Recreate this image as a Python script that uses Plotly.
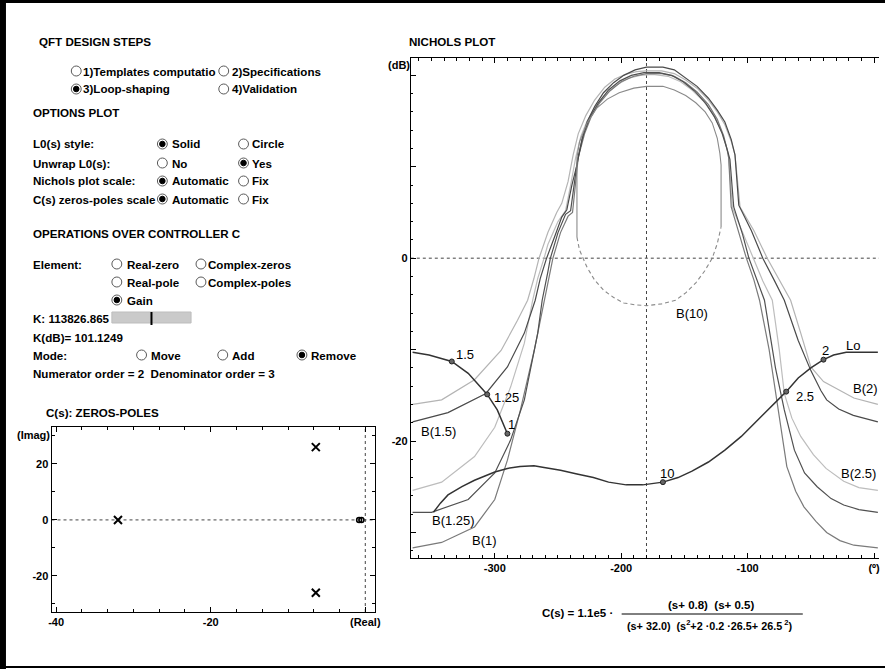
import plotly.graph_objects as go

# ---------------- Nichols plot data (phase in degrees, magnitude in dB) ----------------
b1_phase = [-365, -342, -316, -300, -290, -279.7, -268.8, -261, -257, -254, -248, -242, -238.5, -236, -234,
            -229, -224, -217, -209, -200, -190, -180, -168, -158, -149, -140, -131, -124, -119, -116, -115,
            -113, -107, -101, -95, -90.6, -83, -77, -73, -69, -62, -55.5, -46, -37.5, -27, -16, 3]
b1_db = [-31.7, -31.1, -29.4, -26.4, -22.1, -16.6, -10.1, -4.6, -1.8, 0, 2.8, 4.6, 5.0, 8.0, 11.0,
         13.6, 15.4, 17.0, 18.3, 19.3, 19.9, 20.2, 20.2, 19.9, 19.2, 18.2, 16.8, 15.2, 13.4, 11.8, 11.0,
         5.6, 2.8, 0, -2.4, -4.6, -10, -15.5, -19, -22.8, -25.5, -27.2, -28.8, -30, -30.9, -31.4, -31.7]

b125_phase = [-365, -350, -321, -300, -287.5, -276.6, -266, -262.5, -258, -256, -250, -244, -240, -237, -234.5,
              -230, -225, -218, -210, -201, -192, -182, -170, -160, -151, -142, -133, -126, -120, -116, -114,
              -111, -104, -99, -93, -86.7, -78, -71, -63, -55, -45, -34, -24, -12, 3]
b125_db = [-27.8, -27.8, -26.4, -23.5, -19.9, -15.5, -8.2, -4.6, -1.5, 0, 2.8, 4.8, 5.2, 8.0, 10.8,
           13.5, 15.3, 17.0, 18.4, 19.4, 20.0, 20.3, 20.3, 20.0, 19.3, 18.3, 16.9, 15.4, 13.6, 11.8, 10.8,
           5.6, 2.6, 0, -2.3, -4.6, -12, -16.6, -21, -23.5, -25, -26.3, -27, -27.5, -27.8]

b15_phase = [-365, -337, -307, -290, -276.6, -268, -264, -259, -252, -247, -243, -239, -235, -231, -227,
             -221, -214, -206, -198, -189, -180, -167, -158, -149, -140, -131, -124, -118, -113, -110,
             -107, -97, -88, -79, -71, -60, -50, -42, -37.5, -28, -16.4, 3]
b15_db = [-17.9, -16.9, -14.8, -11.9, -8.2, -4.6, -2.2, 0, 2.6, 4.5, 5.3, 8.0, 10.2, 13.0, 14.9,
          16.6, 18.1, 19.2, 20.0, 20.6, 20.9, 20.9, 20.6, 19.7, 18.8, 17.5, 16.2, 14.9, 13.0, 11.3,
          5.8, 3.0, 0, -2.4, -4.6, -9.0, -12.3, -14.5, -15.5, -16.5, -17.2, -17.9]

b2_phase = [-365, -342, -316, -295, -282, -274, -269, -265, -258, -251, -247, -242, -238, -234, -228,
            -221, -213, -205, -197, -188, -180, -168, -158, -149, -140, -131, -124, -118, -113, -110,
            -106, -95, -84.5, -75, -66, -58, -50, -40, -32, -16, 3]
b2_db = [-16.0, -15.5, -13.3, -10.1, -6.8, -4.6, -2.2, 0, 2.8, 5.0, 6.0, 8.4, 11.3, 13.6, 15.6,
         17.3, 18.7, 19.6, 20.1, 20.4, 20.5, 20.5, 20.2, 19.5, 18.6, 17.3, 16.0, 14.6, 12.8, 11.3,
         5.6, 3.0, 0, -2.4, -4.6, -8.2, -11.9, -13.5, -14.1, -15.3, -16.0]

b25_phase = [-365, -342, -316, -300, -287.5, -276.6, -270, -266, -261, -258, -250, -244, -240, -236, -232,
             -227, -220, -212, -203, -194, -185, -175, -163, -153, -144, -135, -127, -121, -117, -115,
             -112, -104, -96, -88, -80.5, -75, -71, -65, -58, -48, -38, -24, -12, 3]
b25_db = [-25.4, -24.5, -21.7, -18.5, -14.1, -9.3, -4.6, -2.2, 0, 1.5, 4.0, 5.2, 8.0, 11.0, 13.3,
          15.0, 16.7, 18.0, 19.0, 19.7, 20.0, 20.1, 19.9, 19.3, 18.4, 17.2, 15.7, 14.0, 12.3, 11.0,
          5.5, 2.8, 0, -2.5, -4.6, -10, -14.8, -17.5, -19.5, -21.5, -23, -24.4, -25.1, -25.4]

b10_solid_phase = [-235, -235, -233, -227, -219.5, -211, -201.6, -190, -180, -167, -158, -149, -141,
                   -133.6, -128, -124, -122, -121, -121]
b10_solid_db = [2.3, 11.0, 12.7, 14.8, 16.4, 17.4, 18.1, 18.6, 18.8, 18.8, 18.4, 17.8, 17.0,
                16.0, 14.8, 13.1, 11.5, 10.2, 3.4]
b10_dash_phase = [-235, -233, -227, -221, -214, -206, -198, -189, -180, -168, -157, -149, -141, -134,
                  -128, -124, -121]
b10_dash_db = [2.3, 0.9, -1.0, -2.4, -3.5, -4.3, -4.9, -5.1, -5.2, -5.0, -4.6, -3.8, -2.7, -1.4,
               0, 1.6, 3.4]

# open-loop L0 (unwrapped), low-frequency part (left) and rest (wrapping from the right edge)
lo_lf_phase = [-365, -352, -334, -321, -306, -298, -290]
lo_lf_db = [-10.3, -10.6, -11.3, -12.6, -14.9, -16.6, -19.2]
lo_hf_phase = [3, -10, -22, -32, -40, -50, -60, -69.5, -80, -92, -105, -118, -131, -144, -155, -167,
               -183, -196, -210, -222, -235, -248, -261, -269, -280, -290, -300, -316, -326, -337, -343, -348.5]
lo_hf_db = [-10.3, -10.3, -10.3, -10.6, -11.1, -12.0, -13.1, -14.6, -16.1, -17.7, -19.5, -21.0, -22.3, -23.3,
            -24.0, -24.5, -24.8, -24.8, -24.5, -24.0, -23.6, -23.2, -22.9, -22.7, -22.8, -23.0, -23.4, -24.3,
            -25.0, -25.9, -26.8, -27.8]

freq_labels = ["1", "1.25", "1.5", "2", "2.5", "10"]
freq_phase = [-290, -306, -334, -40, -69.5, -167]
freq_db = [-19.2, -14.9, -11.3, -11.1, -14.6, -24.5]

# controller zeros / poles
pole_re = [-32.0, -6.4, -6.4]
pole_im = [0.0, 26.0, -26.0]
zero_re = [-0.8, -0.5]
zero_im = [0.0, 0.0]

W, H = 885, 669
FONT = "Liberation Sans, Arial, sans-serif"


def px(x):
    return x / W


def py(y):
    return 1 - y / H


fig = go.Figure()

bounds = [
    (b2_phase, b2_db, "#b4b4b4"),
    (b25_phase, b25_db, "#bdbdbd"),
    (b1_phase, b1_db, "#7a7a7a"),
    (b125_phase, b125_db, "#505050"),
    (b15_phase, b15_db, "#4a4a4a"),
]
for ph, db, col in bounds:
    fig.add_trace(go.Scatter(x=ph, y=db, mode="lines", line=dict(color=col, width=1.2),
                             xaxis="x", yaxis="y", hoverinfo="skip"))

fig.add_trace(go.Scatter(x=b10_solid_phase, y=b10_solid_db, mode="lines",
                         line=dict(color="#8a8a8a", width=1.1), xaxis="x", yaxis="y"))
fig.add_trace(go.Scatter(x=b10_dash_phase, y=b10_dash_db, mode="lines",
                         line=dict(color="#8a8a8a", width=1.1, dash="4px,3px"), xaxis="x", yaxis="y"))

for ph, db in [(lo_lf_phase, lo_lf_db), (lo_hf_phase, lo_hf_db)]:
    fig.add_trace(go.Scatter(x=ph, y=db, mode="lines", line=dict(color="#333333", width=1.5),
                             xaxis="x", yaxis="y"))

fig.add_trace(go.Scatter(x=freq_phase, y=freq_db, mode="markers",
                         marker=dict(size=5, color="#666666", line=dict(color="#222222", width=1)),
                         xaxis="x", yaxis="y"))

# zeros-poles plot
fig.add_trace(go.Scatter(x=pole_re, y=pole_im, mode="markers",
                         marker=dict(symbol="x-thin", size=8, line=dict(color="black", width=2)),
                         xaxis="x2", yaxis="y2"))
fig.add_trace(go.Scatter(x=zero_re, y=zero_im, mode="markers",
                         marker=dict(symbol="circle-open", size=5, color="black", line=dict(width=1.5)),
                         xaxis="x2", yaxis="y2"))

annotations = []

# frequency labels on L0
freq_shift = [(4, 9), (19, -3), (13, 7), (2, 9), (19, -5), (4, 9)]
for lab, xph, ydb, (dx, dy) in zip(freq_labels, freq_phase, freq_db, freq_shift):
    annotations.append(dict(x=xph, y=ydb, xref="x", yref="y", text=lab, showarrow=False,
                            xshift=dx, yshift=dy, font=dict(family=FONT, size=13, color="black")))

bound_labels = [("B(1.5)", -344.5, -19.0), ("B(1.25)", -333, -28.7), ("B(1)", -308, -30.9),
                ("B(10)", -144, -6.0), ("B(2)", -7, -14.3), ("B(2.5)", -12, -23.6), ("Lo", -16.4, -9.6)]
for t, xx, yy in bound_labels:
    annotations.append(dict(x=xx, y=yy, xref="x", yref="y", text=t, showarrow=False,
                            font=dict(family=FONT, size=13, color="black")))

# UI texts
ui_texts = [
    (38, 42, "QFT DESIGN STEPS"),
    (83, 71, "1)Templates computatio"), (233, 71, "2)Specifications"),
    (83, 89, "3)Loop-shaping"), (233, 89, "4)Validation"),
    (32, 112, "OPTIONS PLOT"),
    (32, 144, "L0(s) style:"), (173, 144, "Solid"), (254, 144, "Circle"),
    (32, 163, "Unwrap L0(s):"), (173, 163, "No"), (254, 163, "Yes"),
    (32, 181, "Nichols plot scale:"), (173, 181, "Automatic"), (254, 181, "Fix"),
    (32, 199, "C(s) zeros-poles scale"), (173, 199, "Automatic"), (254, 199, "Fix"),
    (32, 233, "OPERATIONS OVER CONTROLLER C"),
    (32, 264, "Element:"), (127, 264, "Real-zero"), (209, 264, "Complex-zeros"),
    (127, 282, "Real-pole"), (209, 282, "Complex-poles"),
    (127, 300, "Gain"),
    (32, 318, "K: 113826.865"),
    (32, 337, "K(dB)= 101.1249"),
    (32, 355, "Mode:"), (152, 355, "Move"), (233, 355, "Add"), (313, 355, "Remove"),
    (32, 373, "Numerator order = 2  Denominator order = 3"),
    (45, 412, "C(s): ZEROS-POLES"),
    (412, 42, "NICHOLS PLOT"),
]
for x, y, t in ui_texts:
    annotations.append(dict(x=px(x), y=py(y), xref="paper", yref="paper", text=t, showarrow=False,
                            xanchor="left", yanchor="middle", xshift=-4,
                            font=dict(family=FONT, size=11.6, color="black", weight="bold")))

# formula
annotations.append(dict(x=px(543), y=py(613), xref="paper", yref="paper", text="C(s) = 1.1e5 \u00b7",
                        showarrow=False, xanchor="left", yanchor="middle", xshift=0,
                        font=dict(family=FONT, size=11.5, color="black", weight="bold")))
annotations.append(dict(x=px(715), y=py(605), xref="paper", yref="paper", showarrow=False,
                        text="(s+ 0.8)  (s+ 0.5)", xanchor="center", yanchor="middle",
                        font=dict(family=FONT, size=11.5, color="black", weight="bold")))
annotations.append(dict(x=px(714), y=py(625), xref="paper", yref="paper", showarrow=False,
                        text="(s+ 32.0)  (s<sup>2</sup>+2 \u00b70.2 \u00b726.5+ 26.5<sup> 2</sup>)",
                        xanchor="center", yanchor="middle",
                        font=dict(family=FONT, size=10.8, color="black", weight="bold")))

# axis unit labels
annotations.append(dict(x=px(400), y=py(65), xref="paper", yref="paper", text="(dB)", showarrow=False,
                        xanchor="center", yanchor="middle",
                        font=dict(family=FONT, size=11, color="black", weight="bold")))
annotations.append(dict(x=px(31), y=py(435), xref="paper", yref="paper", text="(Imag)", showarrow=False,
                        xanchor="center", yanchor="middle",
                        font=dict(family=FONT, size=11, color="black", weight="bold")))

shapes = []
# window border (filled strips)
shapes.append(dict(type="rect", xref="paper", yref="paper", x0=-0.01, x1=px(3), y0=-0.01, y1=1.01,
                   line=dict(width=0), fillcolor="black", layer="above"))
shapes.append(dict(type="rect", xref="paper", yref="paper", x0=-0.01, x1=1.01, y0=py(3), y1=1.01,
                   line=dict(width=0), fillcolor="black", layer="above"))
shapes.append(dict(type="rect", xref="paper", yref="paper", x0=-0.01, x1=1.01, y0=py(668), y1=py(666),
                   line=dict(width=0), fillcolor="black", layer="above"))

# radio buttons
radios = [(74, 71, 0), (223, 71, 0), (74, 89, 1), (223, 89, 0),
          (161, 144, 1), (243, 144, 0), (161, 163, 0), (243, 163, 1),
          (161, 181, 1), (243, 181, 0), (161, 199, 1), (243, 199, 0),
          (115, 264, 0), (200, 264, 0), (115, 282, 0), (200, 282, 0), (115, 300, 1),
          (140, 355, 0), (222, 355, 0), (302, 355, 1)]
for cx, cy, sel in radios:
    r = 5
    shapes.append(dict(type="circle", xref="paper", yref="paper",
                       x0=px(cx - r), x1=px(cx + r), y0=py(cy + r), y1=py(cy - r),
                       line=dict(color="#5a5a5a", width=1), fillcolor="white", layer="above"))
    if sel:
        r2 = 2.8
        shapes.append(dict(type="circle", xref="paper", yref="paper",
                           x0=px(cx - r2), x1=px(cx + r2), y0=py(cy + r2), y1=py(cy - r2),
                           line=dict(color="black", width=1), fillcolor="black", layer="above"))

# gain slider
shapes.append(dict(type="rect", xref="paper", yref="paper", x0=px(110), x1=px(190), y0=py(323), y1=py(312),
                   line=dict(color="#bdbdbd", width=1), fillcolor="#cacaca"))
shapes.append(dict(type="line", xref="paper", yref="paper", x0=px(150), x1=px(150), y0=py(325), y1=py(312),
                   line=dict(color="black", width=2)))

# formula fraction bar
shapes.append(dict(type="line", xref="paper", yref="paper", x0=px(625), x1=px(808), y0=py(614), y1=py(614),
                   line=dict(color="black", width=1)))

# dotted reference lines
dot = dict(color="#444444", width=1, dash="dot")
shapes.append(dict(type="line", xref="x domain", yref="y", x0=0, x1=1, y0=0, y1=0, line=dot, layer="below"))
shapes.append(dict(type="line", xref="x", yref="y domain", x0=-180, x1=-180, y0=0, y1=1, line=dot, layer="below"))
shapes.append(dict(type="line", xref="x2 domain", yref="y2", x0=0, x1=1, y0=0, y1=0, line=dot, layer="below"))
shapes.append(dict(type="line", xref="x2", yref="y2 domain", x0=0, x1=0, y0=0, y1=1, line=dot, layer="below"))

tickfont = dict(family=FONT, size=11, color="black", weight="bold")
common = dict(showline=True, linecolor="black", linewidth=1, ticks="inside",
              tickcolor="black", showgrid=False, zeroline=False, tickfont=tickfont, fixedrange=True)

fig.update_layout(
    width=W, height=H, autosize=False,
    margin=dict(l=0, r=0, t=0, b=0),
    paper_bgcolor="white", plot_bgcolor="rgba(0,0,0,0)",
    showlegend=False,
    xaxis=dict(domain=[px(412), 1.0], range=[-366.4, 3.9], anchor="y", mirror="ticks",
               tickvals=[-300, -200, -100, 0],
               ticktext=["<b>-300</b>", "<b>-200</b>", "<b>-100</b>", "<b>(\u00ba)</b>"],
               ticklen=5, minor=dict(ticks="inside", dtick=10, tick0=0, ticklen=3, tickcolor="black"),
               **common),
    yaxis=dict(domain=[py(558), py(58)], range=[-32.8, 21.9], anchor="x", mirror=False,
               tickvals=[-30, -20, -10, 0, 10, 20], ticktext=[" ", "<b>-20</b>", " ", "<b>0</b>", " ", " "],
               ticklen=5, minor=dict(ticks="inside", dtick=2, tick0=0, ticklen=2, tickcolor="black"),
               **common),
    xaxis2=dict(domain=[px(49), px(376)], range=[-40.6, 1.28], anchor="y2", mirror="ticks",
                tickvals=[-40, -20, 0], ticktext=["<b>-40</b>", "<b>-20</b>", "<b>(Real)</b>"],
                ticklen=5, minor=dict(ticks="inside", dtick=10 / 3, tick0=0, ticklen=3, tickcolor="black"),
                **common),
    yaxis2=dict(domain=[py(612), py(427)], range=[-32.9, 33.2], anchor="x2", mirror="ticks",
                tickvals=[-20, 0, 20], ticktext=["<b>-20</b>", "<b>0</b>", "<b>20</b>"],
                ticklen=5, minor=dict(ticks="inside", dtick=10, tick0=0, ticklen=3, tickcolor="black"),
                **common),
    annotations=annotations,
    shapes=shapes,
)

fig.write_html("out.html", config={"displayModeBar": False},
               post_script="document.body.style.margin='0px';document.body.style.overflow='hidden';")
